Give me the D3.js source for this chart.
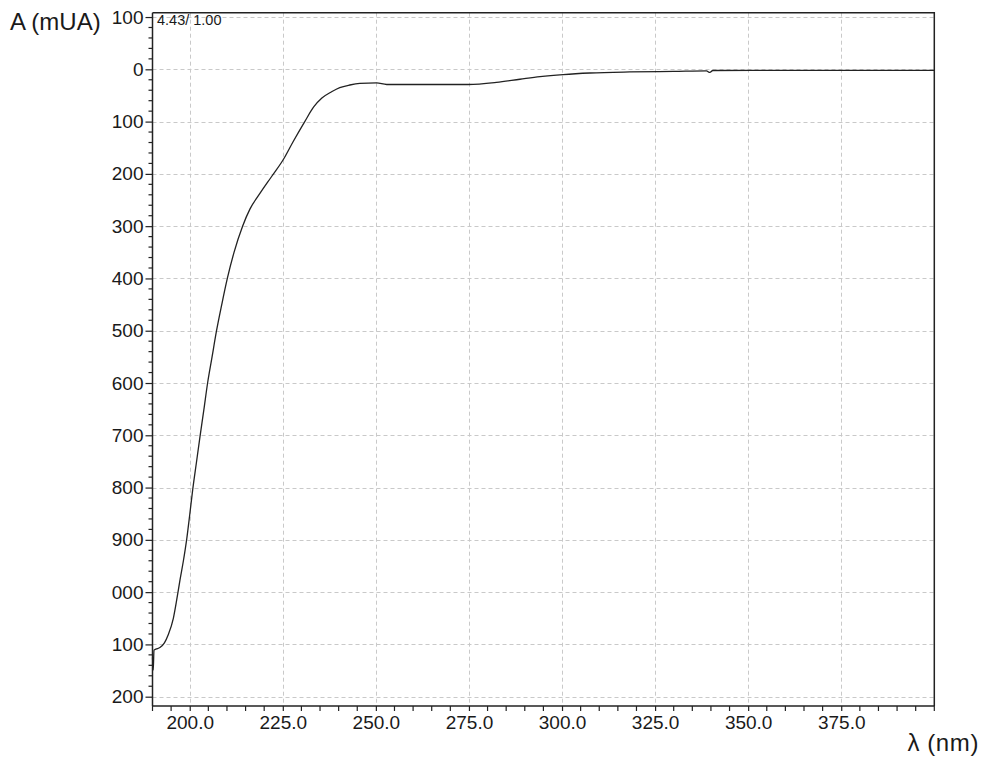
<!DOCTYPE html>
<html>
<head>
<meta charset="utf-8">
<script src="https://cdn.jsdelivr.net/npm/d3@7"></script>
<style>
  body { margin: 0; background: #fff; }
  svg { display: block; }
  text { font-family: "Liberation Sans", Arial, sans-serif; fill: #1a1a1a; }
</style>
</head>
<body>
<svg id="chart" width="983" height="762"></svg>
<script>
// UV absorbance spectrum (wavelength in nm, absorbance in mAU)
const wavelength = [
  190.0, 190.2, 190.4, 190.9, 192.0, 193.2, 194.2, 195.6, 196.5, 197.4,
  198.3, 199.2, 200.0, 200.8, 201.8, 202.75, 203.8, 204.8, 206.0, 207.2,
  208.6, 210.1, 211.9, 214.2, 216.2, 218.9, 222.0, 225.1, 227.8, 230.9,
  233.3, 235.5, 238.1, 240.3, 243.0, 245.7, 250.2, 252.9, 256.5, 265.0,
  274.8, 282.4, 288.7, 294.1, 300.3, 307.5, 318.2, 330.0, 338.8, 339.7,
  340.5, 360.0, 380.0, 400.0
];
const absorbance = [
  -1125, -1149, -1111, -1109, -1106, -1097, -1082, -1050, -1015, -976,
  -940, -898, -852, -804, -752, -703, -651, -600, -550, -500,
  -450, -400, -350, -300, -267, -237, -205, -173, -138, -100,
  -72, -55, -43, -35, -30, -27, -26, -29, -29, -29,
  -29, -25, -19, -14, -10, -7, -5, -4, -3, -6,
  -2.3, -2, -2, -2
];

const xTickValues = [200, 225, 250, 275, 300, 325, 350, 375];
const xTickLabels = ["200.0", "225.0", "250.0", "275.0", "300.0", "325.0", "350.0", "375.0"];
const yTickValues = [100, 0, -100, -200, -300, -400, -500, -600, -700, -800, -900, -1000, -1100, -1200];
const yTickLabels = ["100", "0", "100", "200", "300", "400", "500", "600", "700", "800", "900", "000", "100", "200"];

const svg = d3.select("#chart");
const plot = { left: 152.5, right: 934.3, top: 12.7, bottom: 706 };

const x = d3.scaleLinear().domain([190, 400]).range([plot.left, plot.right]);
const y = d3.scaleLinear().domain([108.3, -1217.8]).range([plot.top, plot.bottom]);

const gridColor = "#c9c9c9";
const axisColor = "#222";

// dashed grid
const grid = svg.append("g").attr("stroke", gridColor).attr("stroke-width", 1).attr("stroke-dasharray", "4,3");
grid.selectAll("line.v").data(xTickValues).join("line")
  .attr("x1", d => Math.round(x(d)) + 0.5).attr("x2", d => Math.round(x(d)) + 0.5)
  .attr("y1", plot.top).attr("y2", plot.bottom);
grid.selectAll("line.h").data(yTickValues).join("line")
  .attr("x1", plot.left).attr("x2", plot.right)
  .attr("y1", d => Math.round(y(d)) + 0.5).attr("y2", d => Math.round(y(d)) + 0.5);

// frame (top and right)
svg.append("path")
  .attr("d", `M${plot.left},${plot.top}H${plot.right}V${plot.bottom}`)
  .attr("fill", "none").attr("stroke", axisColor).attr("stroke-width", 1.5);

// spectrum trace
const line = d3.line().x((d, i) => x(wavelength[i])).y(d => y(d)).curve(d3.curveMonotoneX);
svg.append("path")
  .datum(absorbance)
  .attr("d", line)
  .attr("fill", "none").attr("stroke", "#222").attr("stroke-width", 1.3);

// y axis
const yAxis = d3.axisLeft(y)
  .tickValues(yTickValues)
  .tickFormat((d, i) => yTickLabels[i])
  .tickSize(7).tickPadding(2);
const gy = svg.append("g").attr("transform", `translate(${plot.left},0)`).call(yAxis);
gy.select(".domain").attr("stroke", axisColor).attr("stroke-width", 1.5)
  .attr("d", `M0,${plot.top}V${plot.bottom}`);
gy.selectAll(".tick line").attr("stroke", axisColor).attr("stroke-width", 1.2);
gy.selectAll(".tick text").style("font-size", "19px").attr("fill", "#1a1a1a");

const yMinor = d3.range(-1200, 101, 20).filter(v => v % 100 !== 0);
gy.selectAll("line.minor").data(yMinor).join("line").attr("class", "minor")
  .attr("x1", -4).attr("x2", 0)
  .attr("y1", d => y(d)).attr("y2", d => y(d))
  .attr("stroke", axisColor).attr("stroke-width", 1.2);

// x axis
const xAxis = d3.axisBottom(x)
  .tickValues(xTickValues)
  .tickFormat((d, i) => xTickLabels[i])
  .tickSize(5).tickPadding(5);
const gx = svg.append("g").attr("transform", `translate(0,${plot.bottom})`).call(xAxis);
gx.select(".domain").attr("stroke", axisColor).attr("stroke-width", 1.5)
  .attr("d", `M${plot.left},0H${plot.right}`);
gx.selectAll(".tick line").attr("stroke", axisColor).attr("stroke-width", 1.2);
gx.selectAll(".tick text").style("font-size", "19px").attr("fill", "#1a1a1a");

const xMinor = d3.range(190, 401, 5).filter(v => !xTickValues.includes(v));
gx.selectAll("line.minor").data(xMinor).join("line").attr("class", "minor")
  .attr("x1", d => x(d)).attr("x2", d => x(d))
  .attr("y1", 0).attr("y2", 5)
  .attr("stroke", axisColor).attr("stroke-width", 1.2);

// axis titles and annotation
svg.append("text").attr("x", 10).attr("y", 30).style("font-size", "24px").text("A (mUA)");
svg.append("text").attr("x", 979).attr("y", 751).attr("text-anchor", "end")
  .style("font-size", "24px").style("letter-spacing", "0.6px").text("λ (nm)");
svg.append("text").attr("x", 157).attr("y", 25).style("font-size", "14.5px").text("4.43/ 1.00");
</script>
</body>
</html>
